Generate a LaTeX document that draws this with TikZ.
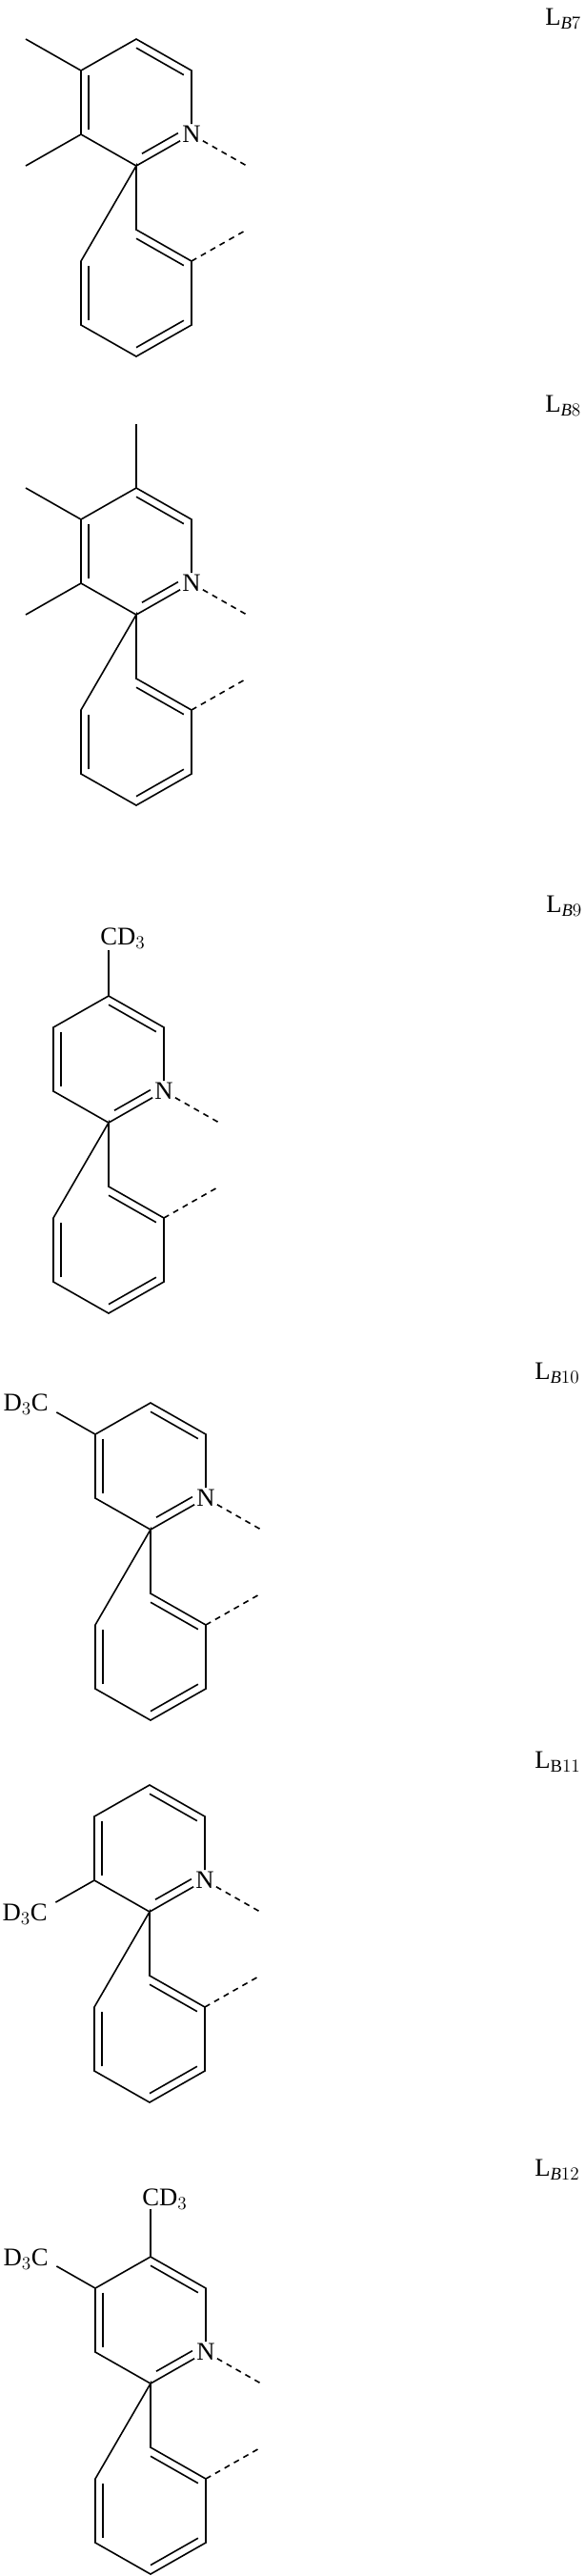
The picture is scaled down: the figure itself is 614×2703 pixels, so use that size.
\documentclass[tikz,border=0pt]{standalone}
\usepackage{fontspec}
\setmainfont{Liberation Serif}
\usetikzlibrary{calc}
\tikzset{
  bond/.style={line width=1.2pt},
  dbond/.style={line width=1.2pt, dash pattern=on 4.5pt off 4pt},
  atom/.style={inner sep=1.5pt, font=\fontsize{20}{22}\selectfont},
  grp/.style={inner sep=0pt, font=\fontsize{20}{22}\selectfont},
  lab/.style={inner sep=0pt, anchor=base west, font=\fontsize{20}{22}\selectfont}
}
\newcommand\dbl[4]{%
  \path ($(#1)!0.14!(#3)$) coordinate (tmpA) ($(#2)!0.14!(#3)$) coordinate (tmpB);
  \draw[bond] ($(tmpA)!#4!(tmpB)$) -- ($(tmpB)!#4!(tmpA)$);}
\newcommand\lig[3]{%
  \coordinate (#1c2) at (#2,#3);
  \coordinate (#1nv) at (#2+58,#3-33);
  \node[atom] (#1n) at (#1nv) {N};
  \coordinate (#1c6) at (#2+58,#3-100);
  \coordinate (#1c5) at (#2,#3-133);
  \coordinate (#1c4) at (#2-58,#3-100);
  \coordinate (#1c3) at (#2-58,#3-33);
  \coordinate (#1cen) at (#2,#3-67);
  \coordinate (#1p1) at (#2,#3+67);
  \coordinate (#1p2) at (#2+58,#3+100);
  \coordinate (#1p3) at (#2+58,#3+167);
  \coordinate (#1p4) at (#2,#3+200);
  \coordinate (#1p5) at (#2-58,#3+167);
  \coordinate (#1p6) at (#2-58,#3+100);
  \coordinate (#1pcen) at (#2,#3+133);
  \coordinate (#1e1) at (#2+116,#3);
  \coordinate (#1e2) at (#2+116,#3+67);
  \draw[bond] (#1n) -- (#1c6) -- (#1c5) -- (#1c4) -- (#1c3) -- (#1c2) -- (#1n);
  \draw[bond] (#1c2) -- (#1p1) -- (#1p2) -- (#1p3) -- (#1p4) -- (#1p5) -- (#1p6) -- cycle;
  \dbl{#1c6}{#1c5}{#1cen}{0}
  \dbl{#1c4}{#1c3}{#1cen}{0}
  \dbl{#1c2}{#1nv}{#1cen}{0.12}
  \dbl{#1p1}{#1p2}{#1pcen}{0}
  \dbl{#1p3}{#1p4}{#1pcen}{0}
  \dbl{#1p5}{#1p6}{#1pcen}{0}
  \draw[dbond] (#1n) -- (#1e1);
  \draw[dbond] (#1p2) -- (#1e2);}
\begin{document}
\begin{tikzpicture}[x=0.75pt,y=-0.75pt]
\useasboundingbox (0,0) rectangle (614,2703);
% L_B7
\lig{a}{143}{174}
\coordinate (am4) at (27,41); \coordinate (am3) at (27,174);
\draw[bond] (ac4) -- (am4); \draw[bond] (ac3) -- (am3);
\node[lab] (la) at (572,26) {L$_{\mathit{B}7}$};
% L_B8
\lig{b}{143}{645}
\coordinate (bm4) at (27,512); \coordinate (bm3) at (27,645); \coordinate (bm5) at (143,445);
\draw[bond] (bc4) -- (bm4); \draw[bond] (bc3) -- (bm3); \draw[bond] (bc5) -- (bm5);
\node[lab] (lb) at (572,432) {L$_{\mathit{B}8}$};
% L_B9
\lig{c}{114}{1178}
\node[grp, anchor=base west] (ccd) at (105,991) {CD$_3$};
\coordinate (cm5) at (114,997);
\draw[bond] (cc5) -- (cm5);
\node[lab] (lc) at (573,957) {L$_{\mathit{B}9}$};
% L_B10
\lig{d}{158}{1605}
\node[grp, anchor=base east] (dcd) at (51,1480) {D$_3$C};
\coordinate (dm4) at (42,1472);
\draw[bond] (dc4) -- ($(dc4)!0.7!(dm4)$);
\node[lab] (ld) at (561,1447) {L$_{\mathit{B}10}$};
% L_B11
\lig{e}{157}{2006}
\node[grp, anchor=base east] (ecd) at (50,2015) {D$_3$C};
\coordinate (em3) at (41,2006);
\draw[bond] (ec3) -- ($(ec3)!0.7!(em3)$);
\node[lab] (le) at (561,1855) {L$_{\mathrm{B}11}$};
% L_B12
\lig{f}{158}{2501}
\node[grp, anchor=base west] (fcd) at (149,2314) {CD$_3$};
\coordinate (fm5) at (158,2318);
\draw[bond] (fc5) -- (fm5);
\node[grp, anchor=base east] (fdc) at (51,2377) {D$_3$C};
\coordinate (fm4) at (42,2368);
\draw[bond] (fc4) -- ($(fc4)!0.7!(fm4)$);
\node[lab] (lf) at (561,2283) {L$_{\mathit{B}12}$};
\end{tikzpicture}
\end{document}
